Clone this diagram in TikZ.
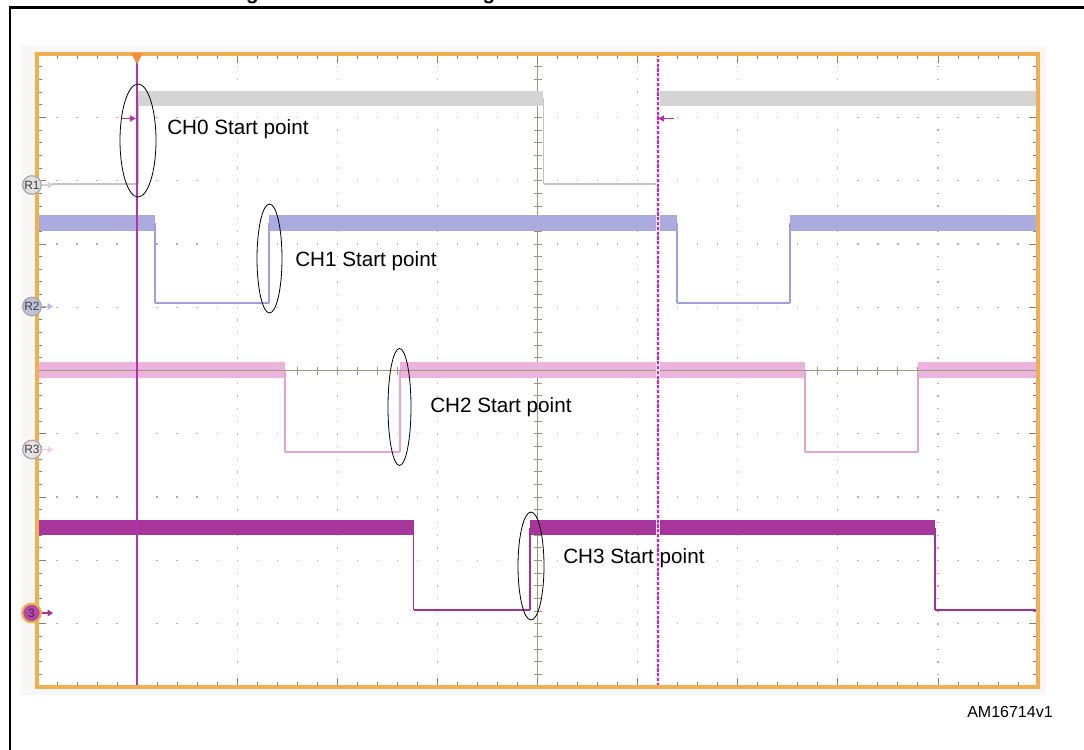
\documentclass[tikz,border=0pt]{standalone}
\usepackage{fontspec}
\setmainfont{Liberation Sans}
\usetikzlibrary{arrows.meta}
\definecolor{framec}{HTML}{F0B050}
\definecolor{tickc}{HTML}{8A7F6A}
\definecolor{gridc}{HTML}{B0B0B0}
\definecolor{bgc}{HTML}{FAF6F6}
\definecolor{cz}{HTML}{D4D4D4}
\definecolor{czl}{HTML}{C4C4C4}
\definecolor{cone}{HTML}{ABABE0}
\definecolor{conel}{HTML}{A0A0D8}
\definecolor{ctwo}{HTML}{EBB3DD}
\definecolor{ctwol}{HTML}{E3A3D3}
\definecolor{cthree}{HTML}{A8359C}
\definecolor{cthreel}{HTML}{A33296}
\definecolor{cursorc}{HTML}{B035A8}
\definecolor{centerc}{HTML}{A09677}
\begin{document}
\begin{tikzpicture}[x=0.75pt,y=-0.75pt,
  lowline/.style={line width=1.5pt},
  tick/.style={draw=tickc,line width=0.6pt},
  ctick/.style={draw=centerc,line width=0.6pt},
  gridv/.style={draw=gridc,line width=1pt,dash pattern=on 1pt off 8.5pt,dash phase=0.5pt},
  gridh/.style={draw=gridc,line width=1pt,dash pattern=on 1pt off 14.015pt,dash phase=0.5pt},
  lbl/.style={font=\fontsize{15.5}{18}\selectfont,inner sep=0pt,anchor=base west},
  ell/.style={draw=black,line width=0.6pt},
  refmark/.style={circle,inner sep=0pt,minimum size=14pt,line width=0.9pt,font=\fontsize{9}{9}\selectfont},
  refarrow/.style={line width=1.2pt,-{Triangle[length=4pt,width=5pt]}},
  curarrow/.style={draw=cursorc,line width=0.9pt,-{Triangle[length=4.5pt,width=4.5pt]}}
]
\useasboundingbox (0,0) rectangle (1084,749);
\clip (0,0) rectangle (1084,749);
\fill[white] (0,0) rectangle (1084,749);
% clipped title fragments
\node[anchor=base,inner sep=0pt,font=\bfseries\fontsize{15.5}{16}\selectfont] (ga) at (252.5,-0.5) {g};
\node[anchor=base,inner sep=0pt,font=\bfseries\fontsize{15.5}{16}\selectfont] (gb) at (489,-0.5) {g};
% outer frame
\draw[line width=1.7pt] (10,7.5) rectangle (1110,770);
% scope background
\fill[bgc] (21,46) rectangle (1046,695);
\fill[white] (37,54) rectangle (1038,687);
% grid dots
\foreach \k in {1,2,3,4,6,7,8,9}{
  \draw[gridv] ({37+100.1*\k},54) -- ({37+100.1*\k},687);
  \draw[gridh] (37,{54+63.3*\k}) -- (1038,{54+63.3*\k});
}
% centre cross
\draw[centerc,line width=0.8pt] (537.5,54) -- (537.5,687);
\draw[centerc,line width=0.8pt] (37,370.5) -- (1038,370.5);
\foreach \j in {1,...,49}{
  \draw[ctick] (533.5,{54+12.66*\j}) -- (541.5,{54+12.66*\j});
}
\foreach \i in {1,...,49}{
  \draw[ctick] ({37+20.02*\i},366.5) -- ({37+20.02*\i},374.5);
}
% border ticks
\foreach \i [evaluate=\i as \len using {ifthenelse(mod(\i,5)==0,9,5)}] in {1,...,49}{
  \draw[tick] ({37+20.02*\i},54) -- ({37+20.02*\i},{54+\len});
  \draw[tick] ({37+20.02*\i},687) -- ({37+20.02*\i},{687-\len});
  \draw[tick] (37,{54+12.66*\i}) -- ({37+\len},{54+12.66*\i});
  \draw[tick] (1038,{54+12.66*\i}) -- ({1038-\len},{54+12.66*\i});
}
% CH0
\fill[cz] (138,91) rectangle (543,106);
\fill[cz] (658,91) rectangle (1037,106);
\draw[czl,lowline] (52,184) -- (138,184);
\draw[czl,line width=0.8pt] (138,184) -- (138,98);
\draw[czl,line width=0.8pt] (543.5,98) -- (543.5,184);
\draw[czl,lowline] (543.5,184) -- (658,184);
% CH1
\fill[cone] (38,215) rectangle (155,231);
\fill[cone] (269,215) rectangle (677,231);
\fill[cone] (790,215) rectangle (1037,231);
\draw[conel,line width=0.8pt] (155,223) -- (155,303) (269,303) -- (269,223);
\draw[conel,lowline] (155,303) -- (269,303);
\draw[conel,line width=0.8pt] (677,223) -- (677,303) (790,303) -- (790,223);
\draw[conel,lowline] (677,303) -- (790,303);
% CH2
\fill[ctwo] (38,362) rectangle (285,378);
\fill[ctwo] (400,362) rectangle (805,378);
\fill[ctwo] (918,362) rectangle (1037,378);
\draw[ctwol,line width=0.8pt] (285,370) -- (285,452) (400,452) -- (400,370);
\draw[ctwol,lowline] (285,452) -- (400,452);
\draw[ctwol,line width=0.8pt] (805,370) -- (805,452) (918,452) -- (918,370);
\draw[ctwol,lowline] (805,452) -- (918,452);
% redraw centre line over pink band
\draw[centerc,line width=0.8pt] (37,370.5) -- (1038,370.5);
% CH3
\fill[cthree] (38,520) rectangle (413.5,535);
\fill[cthree] (530,520) rectangle (935,535);
\draw[cthreel,line width=1pt] (413.5,528) -- (413.5,610) (530,610) -- (530,528);
\draw[cthreel,lowline] (413.5,610) -- (530,610);
\draw[cthreel,line width=1pt] (935,528) -- (935,610);
\draw[cthreel,lowline] (935,610) -- (1037,610);
% cursors
\draw[cursorc,line width=1.6pt] (137,54) -- (137,687);
\draw[cursorc!15,line width=3pt] (657.5,54) -- (657.5,687);
\draw[cursorc,line width=1.5pt,dash pattern=on 2.4pt off 1.2pt] (657.5,54) -- (657.5,687);
\coordinate (c0a) at (121,118.5);
\coordinate (c0b) at (136,118.5);
\coordinate (c1a) at (674,118.5);
\coordinate (c1b) at (658,118.5);
\draw[curarrow] (c0a) -- (c0b);
\draw[curarrow] (c1a) -- (c1b);
% frame
\draw[framec,line width=2.3pt] (37,54) rectangle (1038,687);
% trigger mark
\fill[framec!80!red] (131,53) -- (143,53) -- (137,64) -- cycle;
% reference markers
\node[refmark,draw=gray!70,fill=gray!25,text=black!75] (r1) at (32,185) {R1};
\node[refmark,draw=gray!70,fill=conel!70!gray!60,text=black!75] (r2) at (32,306.5) {R2};
\node[refmark,draw=gray!70,fill=ctwo!55!gray!30,text=black!75] (r3) at (32,449.5) {R3};
\node[refmark,draw=framec,line width=1.6pt,fill=cthree!90,text=cthree!50!black] (r4) at (31.5,613) {3};
\coordinate (a1) at (53,185);
\coordinate (a2) at (53,306.5);
\coordinate (a3) at (53,449.5);
\coordinate (a4) at (53,613);
\draw[refarrow,gray!35] (r1.east) -- (a1);
\draw[refarrow,conel!70] (r2.east) -- (a2);
\draw[refarrow,ctwo!70] (r3.east) -- (a3);
\draw[refarrow,cthree] (r4.east) -- (a4);
% start point ellipses
\draw[ell] (138,140.5) ellipse [x radius=18,y radius=56.5];
\draw[ell] (269.5,258.5) ellipse [x radius=12.5,y radius=54.5];
\draw[ell] (399.5,407) ellipse [x radius=11.5,y radius=58.5];
\draw[ell] (531,566) ellipse [x radius=13,y radius=54];
% labels
\node[lbl] (t0) at (167,134) {CH0 Start point};
\node[lbl] (t1) at (295,266) {CH1 Start point};
\node[lbl] (t2) at (430,412) {CH2 Start point};
\node[lbl] (t3) at (563,563) {CH3 Start point};
\node[anchor=base west,inner sep=0pt,font=\fontsize{12}{14}\selectfont] (am) at (967,717) {AM16714v1};
\end{tikzpicture}
\end{document}
